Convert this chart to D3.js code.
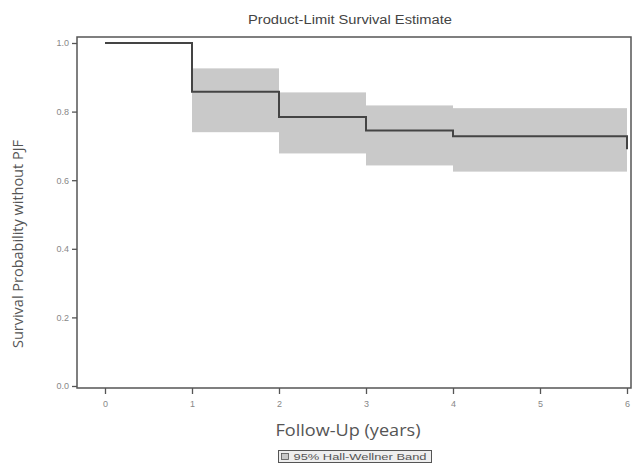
<!DOCTYPE html>
<html><head><meta charset="utf-8">
<script src="https://cdn.jsdelivr.net/npm/d3@7"></script>
<style>body{margin:0;background:#fff}svg{display:block}</style>
</head><body>
<svg id="c" width="633" height="467"></svg>
<script>
// Data
const stepTimes = [0, 1, 2, 3, 4, 6, 6];
const stepSurv = [1.0, 0.858, 0.784, 0.745, 0.728, 0.728, 0.69];
const bandStart = [1, 2, 3, 4];
const bandEnd = [2, 3, 4, 6];
const bandUpper = [0.926, 0.856, 0.818, 0.810];
const bandLower = [0.740, 0.678, 0.643, 0.625];
const xTicks = [0, 1, 2, 3, 4, 5, 6];
const yTicks = [0, 0.2, 0.4, 0.6, 0.8, 1.0];
const titleText = "Product-Limit Survival Estimate";
const xTitle = "Follow-Up (years)";
const yTitle = "Survival Probability without PJF";
const legendText = "95% Hall-Wellner Band";

const svg = d3.select("#c");
const frame = {left: 77, top: 37, right: 631, bottom: 388};
const x = d3.scaleLinear().domain([0, 6]).range([105, 627]);
const y = d3.scaleLinear().domain([0, 1]).range([386, 43]);

// bands
svg.append("g").selectAll("rect").data(bandStart).join("rect")
  .attr("x", (d,i) => x(d))
  .attr("width", (d,i) => x(bandEnd[i]) - x(d))
  .attr("y", (d,i) => y(bandUpper[i]))
  .attr("height", (d,i) => y(bandLower[i]) - y(bandUpper[i]))
  .attr("fill", "#c9c9c9");

// step line
const pts = stepTimes.map((t,i) => [t, stepSurv[i]]);
svg.append("path")
  .attr("d", d3.line().x(d => x(d[0])).y(d => y(d[1])).curve(d3.curveStepAfter)(pts))
  .attr("fill", "none").attr("stroke", "#444").attr("stroke-width", 2);

// frame
svg.append("rect")
  .attr("x", frame.left).attr("y", frame.top)
  .attr("width", frame.right - frame.left).attr("height", frame.bottom - frame.top)
  .attr("fill", "none").attr("stroke", "#555").attr("stroke-width", 1.5);

// axes
const yAxis = svg.append("g").attr("transform", `translate(${frame.left},0)`)
  .call(d3.axisLeft(y).tickValues(yTicks).tickFormat(d3.format(".1f")).tickSize(5).tickPadding(3));
const xAxis = svg.append("g").attr("transform", `translate(0,${frame.bottom})`)
  .call(d3.axisBottom(x).tickValues(xTicks).tickFormat(d3.format("d")).tickSize(6).tickPadding(7));
[yAxis, xAxis].forEach(g => {
  g.select(".domain").remove();
  g.selectAll(".tick line").attr("stroke", "#555").attr("stroke-width", 1.3);
  g.selectAll(".tick text").attr("fill", "#888").style("font-family", "Liberation Sans, Arial, sans-serif").style("font-size", "9px");
});

// title
svg.append("text").attr("x", 350).attr("y", 24).attr("text-anchor", "middle")
  .attr("textLength", 204).attr("lengthAdjust", "spacingAndGlyphs")
  .style("font-family", "Liberation Sans, Arial, sans-serif").style("font-size", "12.5px").attr("fill", "#444")
  .text(titleText);

// axis titles
svg.append("text").attr("x", 348).attr("y", 436).attr("text-anchor", "middle")
  .attr("textLength", 145).attr("lengthAdjust", "spacingAndGlyphs")
  .style("font-family", "Open Sans, DejaVu Sans, sans-serif").style("font-size", "16px").attr("fill", "#555")
  .text(xTitle);
svg.append("text").attr("transform", "translate(23,244) rotate(-90)").attr("text-anchor", "middle")
  .attr("textLength", 208).attr("lengthAdjust", "spacingAndGlyphs")
  .style("font-family", "Open Sans, DejaVu Sans, sans-serif").style("font-size", "14.5px").attr("fill", "#555")
  .text(yTitle);

// legend
const lg = svg.append("g").attr("transform", "translate(278.5,450.5)");
lg.append("rect").attr("width", 153).attr("height", 12).attr("fill", "#eeeeee").attr("stroke", "#555").attr("stroke-width", 1);
lg.append("rect").attr("x", 3).attr("y", 3).attr("width", 7).attr("height", 6).attr("fill", "#c9c9c9").attr("stroke", "#555").attr("stroke-width", 0.8);
lg.append("text").attr("x", 15).attr("y", 9.5)
  .attr("textLength", 133).attr("lengthAdjust", "spacingAndGlyphs")
  .style("font-family", "Liberation Sans, Arial, sans-serif").style("font-size", "9px").attr("fill", "#555")
  .text(legendText);
</script>
</body></html>
